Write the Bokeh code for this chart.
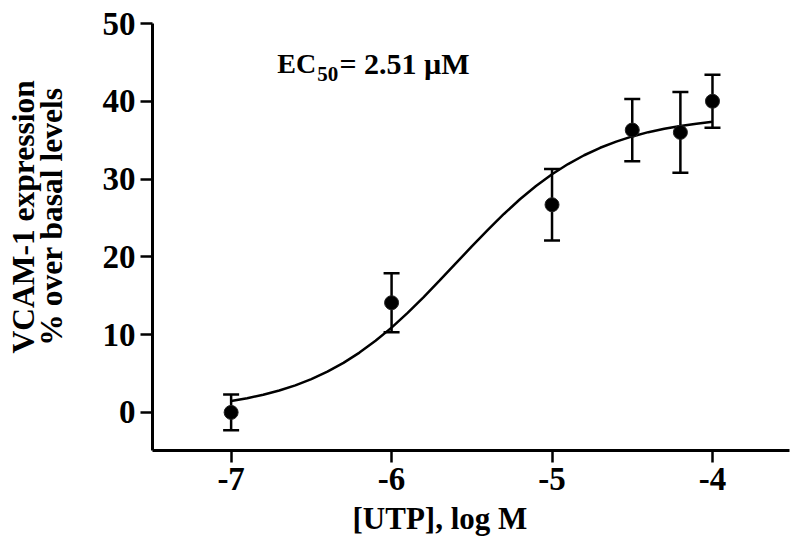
from bokeh.plotting import figure
from bokeh.models import (ColumnDataSource, Whisker, TeeHead, Label, Range1d, FixedTicker,
                          Title, CustomJSTickFormatter)
from bokeh.embed import file_html
from bokeh.resources import INLINE

# data
log_utp = [-7.0, -6.0, -5.0, -4.5, -4.2, -4.0]
vcam = [0.0, 14.1, 26.7, 36.3, 36.0, 40.0]
sem = [2.3, 3.8, 4.6, 4.0, 5.2, 3.4]

curve_x = [-7.0, -6.9, -6.8, -6.7, -6.6, -6.5, -6.4, -6.3, -6.2, -6.1, -6.0,
           -5.9, -5.8, -5.7, -5.6, -5.5, -5.4, -5.3, -5.2, -5.1, -5.0,
           -4.9, -4.8, -4.7, -4.6, -4.5, -4.4, -4.3, -4.2, -4.1, -4.0]
curve_y = [1.47, 1.83, 2.27, 2.82, 3.48, 4.28, 5.24, 6.37, 7.69, 9.20, 10.90,
           12.79, 14.82, 16.96, 19.15, 21.34, 23.48, 25.51, 27.40, 29.10, 30.61,
           31.93, 33.06, 34.02, 34.82, 35.48, 36.03, 36.47, 36.83, 37.12, 37.36]

x_ticks = [-7, -6, -5, -4]
y_ticks = [0, 10, 20, 30, 40, 50]

FONT = "Liberation Serif"

p = figure(width=792, height=543, output_backend="svg", toolbar_location=None,
           x_range=Range1d(-7.49, -3.52), y_range=Range1d(-4.9, 50),
           min_border_left=152, min_border_top=23, min_border_bottom=93, min_border_right=3)
p.outline_line_color = None
p.grid.visible = False
p.background_fill_color = "white"

for ax in (p.xaxis[0], p.yaxis[0]):
    ax.axis_line_width = 3
    ax.axis_line_color = "black"
    ax.major_tick_line_width = 2.5
    ax.major_tick_line_color = "black"
    ax.major_tick_out = 12
    ax.major_tick_in = 0
    ax.minor_tick_line_color = None
    ax.major_label_text_font = FONT
    ax.major_label_text_font_style = "bold"
    ax.major_label_text_font_size = "33px"
    ax.major_label_text_color = "black"
    ax.major_label_standoff = 5
    ax.formatter = CustomJSTickFormatter(code="return tick.toString();")

p.xaxis[0].ticker = FixedTicker(ticks=x_ticks)
p.yaxis[0].ticker = FixedTicker(ticks=y_ticks)

src = ColumnDataSource(dict(
    x=log_utp, y=vcam,
    upper=[v + e for v, e in zip(vcam, sem)],
    lower=[v - e for v, e in zip(vcam, sem)],
))

p.line(curve_x, curve_y, line_color="black", line_width=2.5)

w = Whisker(base="x", upper="upper", lower="lower", source=src, dimension="height",
            line_color="black", line_width=2.5,
            upper_head=TeeHead(size=16, line_width=2.5, line_color="black"),
            lower_head=TeeHead(size=16, line_width=2.5, line_color="black"))
p.add_layout(w)

p.scatter("x", "y", source=src, size=14, fill_color="black", line_color="#222222", line_width=1)

# EC50 annotation
p.add_layout(Label(x=-6.7125, y=44.9, text="EC", text_font=FONT, text_font_style="bold",
                   text_color="black", text_font_size="28px", text_baseline="alphabetic",
                   text_align="left"))
p.add_layout(Label(x=-6.4625, y=43.5, text="50", text_font=FONT, text_font_style="bold",
                   text_color="black", text_font_size="21px", text_baseline="alphabetic",
                   text_align="left"))
p.add_layout(Label(x=-6.325, y=44.9, text="= 2.51 \u00b5M", text_font=FONT, text_font_style="bold",
                   text_color="black", text_font_size="30px", text_baseline="alphabetic",
                   text_align="left"))

# axis titles
p.add_layout(Title(text="[UTP], log M", text_font=FONT, text_font_style="bold", text_color="black",
                   text_font_size="31px", align="left", offset=200, standoff=12), "below")
p.add_layout(Title(text="VCAM-1 expression\n\u00a0% over basal levels\n\u00a0", text_font=FONT,
                   text_font_style="bold", text_color="black", text_font_size="31.5px",
                   text_line_height=0.8, align="left", offset=97, standoff=6), "left")

open("out.html", "w").write(file_html(p, INLINE))
